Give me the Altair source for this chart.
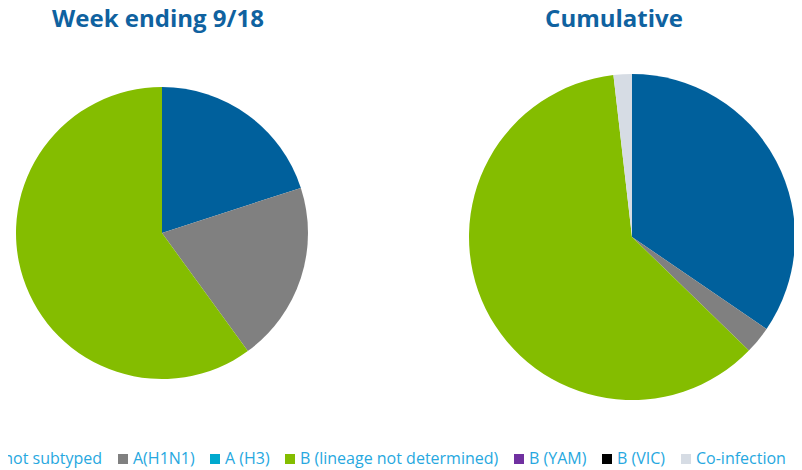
import altair as alt
import pandas as pd

categories = ["A not subtyped", "A(H1N1)", "A (H3)", "B (lineage not determined)",
              "B (YAM)", "B (VIC)", "Co-infection"]
colors = ["#00609C", "#808080", "#00A9CE", "#84BD00", "#7030A0", "#000000", "#D6DCE4"]
week_values = [1, 1, 0, 3, 0, 0, 0]
cumulative_values = [38, 3, 0, 67, 0, 0, 2]
titles = ["Week ending 9/18", "Cumulative"]

rows = []
for i, c in enumerate(categories):
    rows.append({"panel": "week", "category": c, "value": week_values[i], "idx": i})
    rows.append({"panel": "cum", "category": c, "value": cumulative_values[i], "idx": i})
df = pd.DataFrame(rows)

FONT = "Open Sans"

color = alt.Color(
    "category:N",
    scale=alt.Scale(domain=categories, range=colors),
    legend=alt.Legend(
        title=None, orient="none", direction="horizontal", columns=7,
        legendX=-37, legendY=443, symbolType="square", symbolSize=100,
        symbolStrokeWidth=0, labelFont=FONT, labelFontSize=16, labelColor="#27A8E0",
        labelOffset=2, columnPadding=12, labelLimit=400,
    ),
)

base = alt.Chart(df)

left = base.transform_filter("datum.panel == 'week'").mark_arc(radius=146).encode(
    theta=alt.Theta("value:Q", stack=True),
    color=color,
    order=alt.Order("idx:Q"),
    x=alt.value(154), y=alt.value(225),
)
right = base.transform_filter("datum.panel == 'cum'").mark_arc(radius=163).encode(
    theta=alt.Theta("value:Q", stack=True),
    color=color,
    order=alt.Order("idx:Q"),
    x=alt.value(624), y=alt.value(229),
)

tdf = pd.DataFrame({"t": titles, "px": [150, 606]})
title_layer = alt.Chart(tdf).mark_text(
    font=FONT, fontSize=24, fontWeight="bold", color="#0F62A0", baseline="alphabetic", align="center"
).encode(
    text="t:N",
    x=alt.X("px:Q", scale=alt.Scale(domain=[0, 786]), axis=None),
    y=alt.value(19),
)

chart = alt.layer(left, right, title_layer).resolve_scale(theta="independent").properties(
    width=786, height=460, padding=0, autosize=alt.AutoSizeParams(type="none")
).configure_view(stroke=None)

chart.save("out.html", embed_options={"renderer": "svg", "actions": False})
